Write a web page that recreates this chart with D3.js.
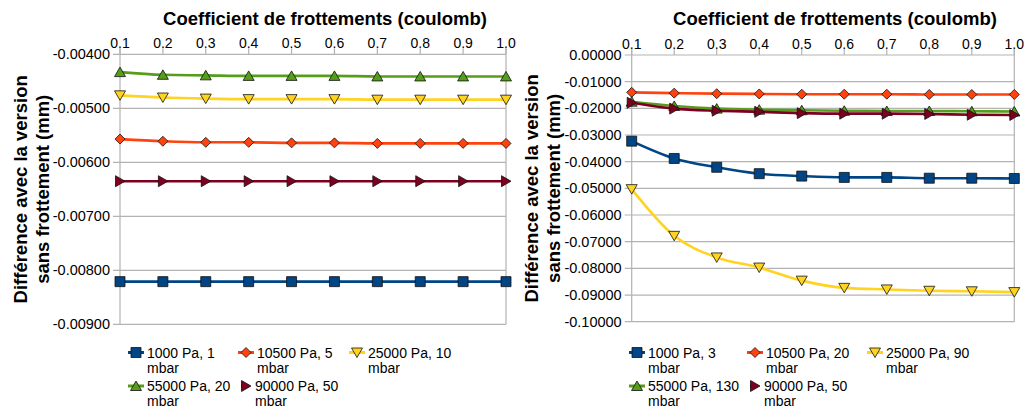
<!DOCTYPE html>
<html><head><meta charset="utf-8">
<script src="https://cdn.jsdelivr.net/npm/d3@7"></script>
<style>
body{margin:0;background:#fff;}
text{font-family:"Liberation Sans",Arial,sans-serif;fill:#000;}
</style></head>
<body><svg id="c" width="1027" height="408"></svg>
<script>
const xValues = [0.1,0.2,0.3,0.4,0.5,0.6,0.7,0.8,0.9,1.0];
const xTickLabels = ["0.1","0.2","0.3","0.4","0.5","0.6","0.7","0.8","0.9","1.0"];
const xTitle = "Coefficient de frottements (coulomb)";
const yTitle = ["Différence avec la version","sans frottement (mm)"];

// Left chart
const leftNames = [["1000 Pa, 1","mbar"],["10500 Pa, 5","mbar"],["25000 Pa, 10","mbar"],["55000 Pa, 20","mbar"],["90000 Pa, 50","mbar"]];
const leftBlue   = [-0.00821,-0.00821,-0.00821,-0.00821,-0.00821,-0.00821,-0.00821,-0.00821,-0.00821,-0.00821];
const leftOrange = [-0.00557,-0.00561,-0.00563,-0.00563,-0.00564,-0.00564,-0.00565,-0.00565,-0.00565,-0.00565];
const leftYellow = [-0.00476,-0.00480,-0.00482,-0.00483,-0.00483,-0.00483,-0.00484,-0.00484,-0.00484,-0.00484];
const leftGreen  = [-0.00433,-0.00438,-0.00439,-0.00440,-0.00440,-0.00440,-0.00441,-0.00441,-0.00441,-0.00441];
const leftDark   = [-0.00635,-0.00635,-0.00635,-0.00635,-0.00635,-0.00635,-0.00635,-0.00635,-0.00635,-0.00635];
const leftYTicks = [-0.004,-0.005,-0.006,-0.007,-0.008,-0.009];
const leftYTickLabels = ["-0.00400","-0.00500","-0.00600","-0.00700","-0.00800","-0.00900"];

// Right chart
const rightNames = [["1000 Pa, 3","mbar"],["10500 Pa, 20","mbar"],["25000 Pa, 90","mbar"],["55000 Pa, 130","mbar"],["90000 Pa, 50","mbar"]];
const rightBlue   = [-0.0323,-0.0388,-0.0421,-0.0445,-0.0454,-0.0459,-0.0459,-0.0462,-0.0462,-0.0463];
const rightOrange = [-0.0140,-0.0143,-0.0145,-0.0146,-0.0147,-0.0147,-0.0147,-0.0148,-0.0148,-0.0148];
const rightYellow = [-0.0503,-0.0678,-0.0759,-0.0797,-0.0846,-0.0873,-0.0879,-0.0884,-0.0886,-0.0889];
const rightGreen  = [-0.0175,-0.0191,-0.0201,-0.0205,-0.0207,-0.0209,-0.0210,-0.0210,-0.0211,-0.0212];
const rightDark   = [-0.0179,-0.0201,-0.0209,-0.0213,-0.0218,-0.0220,-0.0220,-0.0221,-0.0224,-0.0225];
const rightYTicks = [0,-0.01,-0.02,-0.03,-0.04,-0.05,-0.06,-0.07,-0.08,-0.09,-0.10];
const rightYTickLabels = ["0.00000","-0.01000","-0.02000","-0.03000","-0.04000","-0.05000","-0.06000","-0.07000","-0.08000","-0.09000","-0.10000"];

const colors = ["#004586","#ff420e","#ffd320","#579d1c","#7e0021"];
const shapes = ["square","diamond","down","up","right"];

const svg = d3.select("#c");

function marker(g, shape, cx, cy, color){
  let p;
  const s = 5;
  if(shape==="square") p = `M${cx-s},${cy-s}h${2*s}v${2*s}h${-2*s}Z`;
  else if(shape==="diamond") p = `M${cx},${cy-5}L${cx+5},${cy}L${cx},${cy+5}L${cx-5},${cy}Z`;
  else if(shape==="down") p = `M${cx-5.5},${cy-4.5}L${cx+5.5},${cy-4.5}L${cx},${cy+5}Z`;
  else if(shape==="up") p = `M${cx-5.5},${cy+4.5}L${cx+5.5},${cy+4.5}L${cx},${cy-5}Z`;
  else p = `M${cx-4.5},${cy-5.5}L${cx-4.5},${cy+5.5}L${cx+5},${cy}Z`;
  g.append("path").attr("d",p).attr("fill",color).attr("stroke","#111").attr("stroke-width",0.8);
}

function chart(cfg){
  const x = d3.scaleLinear().domain([0.1,1.0]).range([cfg.x0,cfg.x1]);
  const y = d3.scaleLinear().domain([cfg.yTicks[0], cfg.yTicks[cfg.yTicks.length-1]]).range([cfg.y0,cfg.y1]);
  const g = svg.append("g");
  g.selectAll(".gr").data(cfg.yTicks).join("line")
    .attr("x1",cfg.x0-7).attr("x2",cfg.x1).attr("y1",d=>y(d)).attr("y2",d=>y(d))
    .attr("stroke","#b3b3b3").attr("stroke-width",1.2);
  g.append("line").attr("x1",cfg.x0).attr("x2",cfg.x0).attr("y1",cfg.y0-6).attr("y2",cfg.y1).attr("stroke","#b3b3b3").attr("stroke-width",1.2);
  g.append("line").attr("x1",cfg.x1).attr("x2",cfg.x1).attr("y1",cfg.y0-6).attr("y2",cfg.y1).attr("stroke","#b3b3b3").attr("stroke-width",1.2);
  g.selectAll(".xt").data(xValues).join("line")
    .attr("x1",d=>x(d)).attr("x2",d=>x(d)).attr("y1",cfg.y0-6).attr("y2",cfg.y0)
    .attr("stroke","#b3b3b3").attr("stroke-width",1.2);
  g.selectAll(".xl").data(xValues).join("text")
    .attr("x",d=>x(d)).attr("y",cfg.y0-6).attr("text-anchor","middle")
    .attr("font-size",14).text((d,i)=>xTickLabels[i]);
  g.selectAll(".yl").data(cfg.yTicks).join("text")
    .attr("x",cfg.x0-10).attr("y",d=>y(d)+5).attr("text-anchor","end")
    .attr("font-size",14.5).text((d,i)=>cfg.yLabels[i]);
  g.append("text").attr("x",(cfg.x0+cfg.x1)/2+12).attr("y",25).attr("text-anchor","middle")
    .attr("font-size",18.5).attr("font-weight","bold").text(xTitle);
  const cy = (cfg.y0+cfg.y1)/2;
  yTitle.forEach((t,i)=>{
    g.append("text").attr("transform",`translate(${cfg.tx+i*22},${cy}) rotate(-90)`)
      .attr("text-anchor","middle").attr("font-size",18.5).attr("font-weight","bold").text(t);
  });
  const line = d3.line().x((d,i)=>x(xValues[i])).y(d=>y(d)).curve(d3.curveMonotoneX);
  cfg.series.forEach((s,k)=>{
    g.append("path").attr("d",line(s)).attr("fill","none").attr("stroke",colors[k]).attr("stroke-width",2.6);
    s.forEach((v,i)=>marker(g,shapes[k],x(xValues[i]),y(v),colors[k]));
  });
  cfg.legend.forEach((pos,k)=>{
    const [lx,ly] = pos;
    if(k===4){
      g.append("line").attr("x1",lx+12).attr("x2",lx+16).attr("y1",ly).attr("y2",ly).attr("stroke",colors[k]).attr("stroke-width",3);
      marker(g,shapes[k],lx+17,ly,colors[k]);
    } else {
      g.append("line").attr("x1",lx).attr("x2",lx+16).attr("y1",ly).attr("y2",ly).attr("stroke",colors[k]).attr("stroke-width",3);
      marker(g,shapes[k],lx+8,ly,colors[k]);
    }
    const tx = lx + (k===4 ? 26 : 19);
    g.append("text").attr("x",tx).attr("y",ly+5).attr("font-size",14).text(cfg.names[k][0]);
    g.append("text").attr("x",tx).attr("y",ly+20).attr("font-size",14).text(cfg.names[k][1]);
  });
}

chart({x0:120,x1:506,y0:54.3,y1:324.3,tx:27,yTicks:leftYTicks,yLabels:leftYTickLabels,
  series:[leftBlue,leftOrange,leftYellow,leftGreen,leftDark],names:leftNames,
  legend:[[128,352.5],[238,352.5],[349,352.5],[128,386],[229,386]]});
chart({x0:631.7,x1:1014.3,y0:55,y1:321.7,tx:538,yTicks:rightYTicks,yLabels:rightYTickLabels,
  series:[rightBlue,rightOrange,rightYellow,rightGreen,rightDark],names:rightNames,
  legend:[[629,352.5],[747,352.5],[867,352.5],[629,386],[738,386]]});
</script></body></html>
